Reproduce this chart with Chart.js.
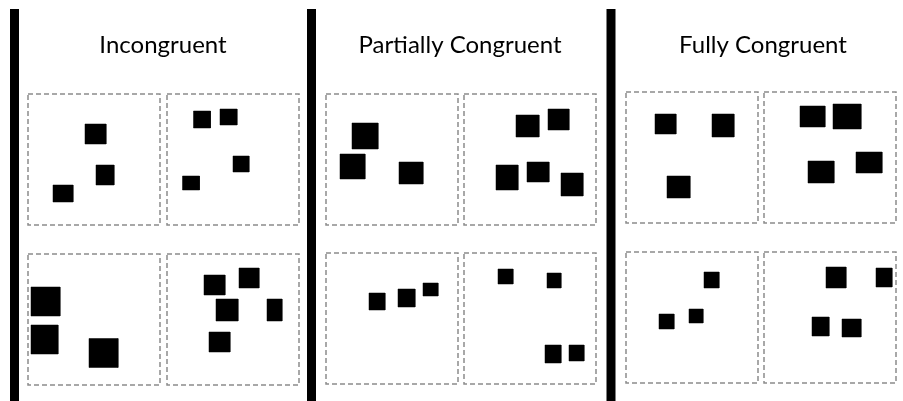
<!DOCTYPE html>
<html>
<head>
<meta charset="utf-8">
<script src="https://cdn.jsdelivr.net/npm/chart.js@4.4.1/dist/chart.umd.min.js"></script>
<style>
    html, body { margin: 0; padding: 0; background: #fff; overflow: hidden; }
    #wrap { position: relative; width: 903px; height: 401px; }
</style>
</head>
<body>
<div id="wrap"><canvas id="stimuli"></canvas></div>
<script>
// Condition names (one panel each)
const conditions = ["Incongruent", "Partially Congruent", "Fully Congruent"];

// Squares inside each dashed cell: [centre x, centre y, width, height]
// cells in order: top-left, top-right, bottom-left, bottom-right
const incongruentSquares = [
    [[67.5, 40, 21, 20], [77, 81, 18, 20], [35, 99.5, 20, 17]],
    [[35, 25.5, 17, 17], [61.5, 23, 17, 16], [74, 70, 16, 16], [24, 89, 17, 14]],
    [[17.5, 47.5, 29, 29], [16.5, 85.5, 27, 29], [75.5, 99, 29, 29]],
    [[47.5, 31, 21, 20], [82, 24, 20, 20], [60, 56, 22, 22], [107.5, 56, 15, 22], [52.5, 88, 21, 20]]
];
const partialSquares = [
    [[39, 42, 26, 26], [26.5, 72.5, 25, 25], [85, 79, 24, 22]],
    [[63.5, 32, 23, 22], [94.5, 25.5, 21, 21], [43, 83.5, 22, 25], [74, 78, 22, 20], [108, 90.5, 22, 23]],
    [[51, 48.5, 16, 17], [80.5, 45, 17, 18], [104.5, 36.5, 15, 13]],
    [[41.5, 23.5, 15, 15], [90, 27.5, 14, 15], [89, 101, 16, 18], [112.5, 100, 15, 16]]
];
const fullSquares = [
    [[39.5, 32, 21, 20], [97, 33.5, 22, 23], [52.5, 95, 23, 22]],
    [[48.5, 24.5, 25, 21], [83, 24.5, 28, 25], [57, 80, 26, 22], [105, 70.5, 26, 21]],
    [[85.5, 28, 15, 16], [40.5, 69.5, 15, 15], [70, 64, 14, 14]],
    [[72, 25.5, 20, 21], [120, 25.5, 16, 19], [56.5, 74.5, 17, 19], [87.5, 76, 19, 18]]
];
const squaresByCondition = [incongruentSquares, partialSquares, fullSquares];

// Layout of the figure (in figure units, 903 x 401)
const barX = [14.5, 311.5, 611];
const titleX = [163, 460, 763];
const titleY = 45;
const cellLeft = [[28, 167], [326, 464], [626, 764]];
const cellTop = [[94, 254], [94, 253], [92, 252]];
const cellW = 132, cellH = 131;

const datasets = [];

// Thick black separators on the left of each panel
barX.forEach(x => {
    datasets.push({
        data: [{x: x, y: 9}, {x: x, y: 401}],
        borderColor: "#000",
        borderWidth: 9,
        borderCapStyle: "butt",
        pointRadius: 0,
        fill: false
    });
});

squaresByCondition.forEach((cells, p) => {
    cells.forEach((squares, c) => {
        const left = cellLeft[p][c % 2];
        const top = cellTop[p][Math.floor(c / 2)];

        // dashed cell outline
        datasets.push({
            data: [
                {x: left, y: top}, {x: left + cellW, y: top},
                {x: left + cellW, y: top + cellH}, {x: left, y: top + cellH},
                {x: left, y: top}
            ],
            borderColor: "#8c8c8c",
            borderWidth: 1.5,
            borderDash: [5, 3],
            pointRadius: 0,
            fill: false
        });

        // black squares, filled closed shapes
        squares.forEach(([cx, cy, w, h]) => {
            const x = left + cx, y = top + cy;
            datasets.push({
                data: [
                    {x: x - w / 2, y: y - h / 2}, {x: x + w / 2, y: y - h / 2},
                    {x: x + w / 2, y: y + h / 2}, {x: x - w / 2, y: y + h / 2},
                    {x: x - w / 2, y: y - h / 2}
                ],
                borderColor: "#000",
                borderWidth: 0.5,
                backgroundColor: "#000",
                pointRadius: 0,
                fill: "shape"
            });
        });
    });
});

// Panel titles drawn at scale positions
const titlePlugin = {
    id: "panelTitles",
    afterDatasetsDraw(chart) {
        const ctx = chart.ctx;
        const xs = chart.scales.x, ys = chart.scales.y;
        ctx.save();
        ctx.fillStyle = "#000";
        ctx.font = "24px Lato, 'Open Sans', sans-serif";
        ctx.textAlign = "center";
        ctx.textBaseline = "middle";
        conditions.forEach((name, i) => {
            ctx.fillText(name, xs.getPixelForValue(titleX[i]), ys.getPixelForValue(titleY));
        });
        ctx.restore();
    }
};

new Chart("stimuli", {
    type: "line",
    data: { datasets: datasets },
    options: {
        responsive: true,
        maintainAspectRatio: false,
        animation: false,
        layout: { padding: 0 },
        plugins: { legend: { display: false }, tooltip: { enabled: false } },
        elements: { line: { tension: 0 } },
        scales: {
            x: { type: "linear", min: 0, max: 903, display: false },
            y: { type: "linear", min: 0, max: 401, reverse: true, display: false }
        }
    },
    plugins: [titlePlugin]
});
</script>
</body>
</html>
